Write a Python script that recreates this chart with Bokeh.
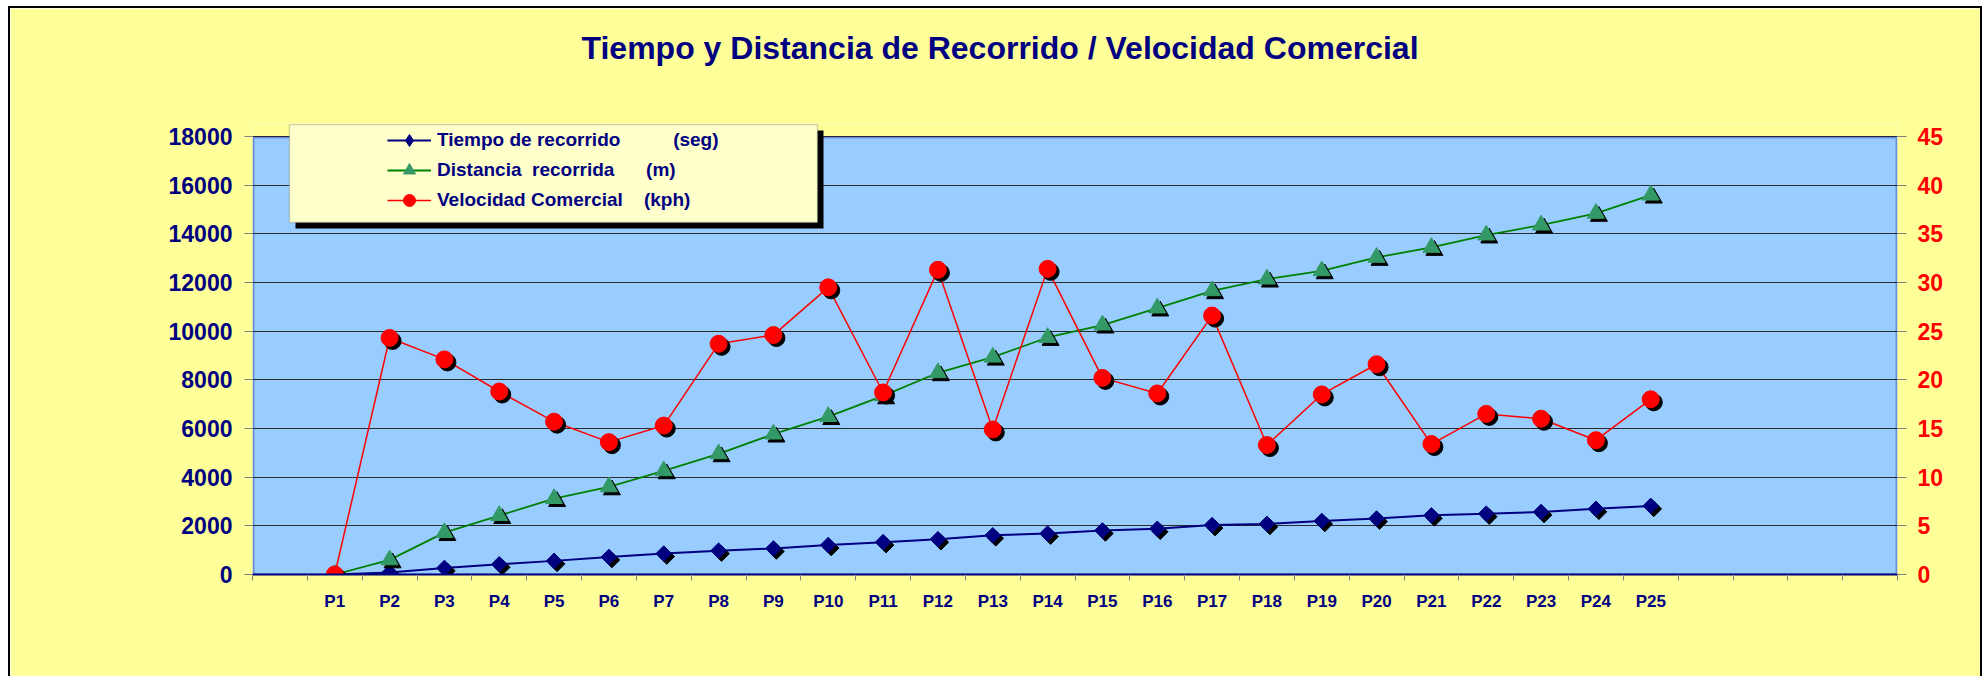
import numpy as np
from bokeh.plotting import figure
from bokeh.models import (Range1d, LinearAxis, FixedTicker, Legend, LegendItem,
                          BoxAnnotation, ColumnDataSource, Title)
from bokeh.transform import dodge
from bokeh.embed import file_html
from bokeh.resources import INLINE

# ---------------- data ----------------
categorias = ["P1", "P2", "P3", "P4", "P5", "P6", "P7", "P8", "P9", "P10",
              "P11", "P12", "P13", "P14", "P15", "P16", "P17", "P18", "P19", "P20",
              "P21", "P22", "P23", "P24", "P25"]
tiempo_seg = [0, 80, 270, 420, 560, 720, 860, 980, 1070, 1210,
              1330, 1450, 1610, 1680, 1810, 1880, 2030, 2080, 2200, 2300,
              2430, 2500, 2570, 2700, 2820]
distancia_m = [0, 600, 1720, 2420, 3120, 3600, 4260, 4960, 5770, 6490,
               7340, 8290, 8930, 9740, 10250, 10950, 11660, 12140, 12480, 13030,
               13440, 13950, 14360, 14840, 15590]
velocidad_kph = [0, 24.3, 22.1, 18.8, 15.7, 13.6, 15.3, 23.7, 24.6, 29.5,
                 18.7, 31.3, 14.9, 31.4, 20.2, 18.6, 26.6, 13.3, 18.5, 21.6,
                 13.4, 16.5, 16.0, 13.8, 18.0]
y_left_ticks = [0, 2000, 4000, 6000, 8000, 10000, 12000, 14000, 16000, 18000]
y_right_ticks = [0, 5, 10, 15, 20, 25, 30, 35, 40, 45]
NB = "\u00a0"
leyenda = ["Tiempo de recorrido" + NB * 10 + "(seg)",
           "Distancia" + NB * 2 + "recorrida" + NB * 6 + "(m)",
           "Velocidad Comercial" + NB * 4 + "(kph)"]
titulo = "Tiempo y Distancia de Recorrido / Velocidad Comercial"

# ---------------- style / layout ----------------
NAVY = "#000080"
RED = "#FF0000"
GREEN_LINE = "#008000"
GREEN_FILL = "#339966"
FONT = "Liberation Sans"
N_SLOTS = 30
FIRST_SLOT = 2
Y_MAX, V_MAX = y_left_ticks[-1], y_right_ticks[-1]

# page geometry (px)
CONTENT_L, CONTENT_T = 10, 8          # inside the 2px border
FR_L, FR_R = 252, 1897                # frame left/right
AREA_T, AREA_B = 136, 574             # blue plot area top/bottom
FR_T = 123                            # frame top (extended to hold legend box)
W_FRAME = FR_R - FR_L
H_AREA = AREA_B - AREA_T
H_FRAME = AREA_B - FR_T
MB_L = FR_L - CONTENT_L
MB_R = 1984 - FR_R
MB_T = FR_T - CONTENT_T
MB_B = 680 - MB_T - H_FRAME
SH = 3  # marker shadow offset px

dx = N_SLOTS / W_FRAME
dy = Y_MAX / H_AREA
dv = V_MAX / H_AREA

def X(px):
    return 0.5 + (px - FR_L) * dx
def Y(py):
    return Y_MAX - (py - AREA_T) * dy

xpos = [FIRST_SLOT + i for i in range(len(categorias))]
src = ColumnDataSource(dict(x=xpos, cat=categorias, t=tiempo_seg,
                            d=distancia_m, v=velocidad_kph))

p = figure(width=MB_L + W_FRAME + MB_R, height=MB_T + H_FRAME + MB_B,
           x_range=Range1d(0.5, N_SLOTS + 0.5),
           y_range=Range1d(0, Y_MAX + (AREA_T - FR_T) * dy),
           output_backend="svg", toolbar_location=None, title=None,
           min_border_left=MB_L, min_border_right=MB_R,
           min_border_top=MB_T, min_border_bottom=MB_B,
           background_fill_color="#FFFF99", border_fill_color="#FFFF99",
           outline_line_color=None)
p.styles = {"border-top": "2px solid black", "border-left": "2px solid black",
            "border-right": "2px solid black", "margin": "6px 0px 0px 8px"}
p.extra_y_ranges = {"vel": Range1d(0, V_MAX + (AREA_T - FR_T) * dv)}

# titles (spacer nearest to frame, then the real title)
spacer = Title(text=" ", text_font_size="1px", standoff=53)
p.add_layout(spacer, "above")
p.add_layout(Title(text=titulo, text_font=FONT, text_font_size="32px",
                   text_font_style="bold", text_color=NAVY, align="left",
                   offset=329, vertical_align="top", standoff=0), "above")

# blue plot area
p.add_layout(BoxAnnotation(bottom=0, top=Y_MAX, fill_color="#99CCFF", fill_alpha=1,
                           line_alpha=0, level="image"))

# grid
p.xgrid.visible = False
p.ygrid.ticker = FixedTicker(ticks=y_left_ticks)
p.ygrid.grid_line_color = "#2b2b2b"
p.ygrid.grid_line_width = 1

# navy outline of the plot area
p.add_layout(BoxAnnotation(left=X(FR_L + 1), right=X(FR_R - 1), bottom=0, top=Y(AREA_T + 1),
                           fill_alpha=0, line_color=NAVY, line_width=2, level="underlay"))

# left axis
ax_l = p.left[0]
ax_l.ticker = FixedTicker(ticks=y_left_ticks)
ax_l.axis_line_color = None
ax_l.major_tick_out = 8
ax_l.major_tick_in = 0
ax_l.major_tick_line_color = "#808080"
ax_l.minor_tick_line_color = None
ax_l.major_label_text_font = FONT
ax_l.major_label_text_font_size = "23px"
ax_l.major_label_text_font_style = "bold"
ax_l.major_label_text_color = NAVY
ax_l.major_label_standoff = 12

# bottom axis
ax_b = p.below[0]
ax_b.ticker = FixedTicker(ticks=xpos, minor_ticks=[i + 0.5 for i in range(N_SLOTS + 1)])
ax_b.major_label_overrides = {xi: c for xi, c in zip(xpos, categorias)}
ax_b.axis_line_color = NAVY
ax_b.axis_line_width = 2
ax_b.major_tick_out = 0
ax_b.major_tick_in = 0
ax_b.minor_tick_out = 6
ax_b.minor_tick_in = 0
ax_b.minor_tick_line_color = "#808080"
ax_b.major_label_text_font = FONT
ax_b.major_label_text_font_size = "17px"
ax_b.major_label_text_font_style = "bold"
ax_b.major_label_text_color = NAVY
ax_b.major_label_standoff = 11

# right axis
ax_r = LinearAxis(y_range_name="vel", ticker=FixedTicker(ticks=y_right_ticks))
ax_r.axis_line_color = None
ax_r.major_tick_out = 9
ax_r.major_tick_in = 0
ax_r.major_tick_line_color = "#808080"
ax_r.minor_tick_line_color = None
ax_r.major_label_text_font = FONT
ax_r.major_label_text_font_size = "23px"
ax_r.major_label_text_font_style = "bold"
ax_r.major_label_text_color = RED
ax_r.major_label_standoff = 11
p.add_layout(ax_r, "right")

# series: tiempo
l_t = p.line("x", "t", source=src, line_color=NAVY, line_width=2)
p.scatter(x=dodge("x", SH * dx), y=dodge("t", -SH * dy), source=src,
          marker="square", angle=np.pi / 4, size=11, fill_color="black", line_color="black")
p.scatter("x", "t", source=src, marker="square", angle=np.pi / 4, size=11,
          fill_color=NAVY, line_color=NAVY)
# legend-only sample marker (a single non-drawable point)
s_t = p.scatter(x=[np.nan], y=[np.nan], marker="diamond", fill_color=NAVY, line_color=NAVY)

# series: distancia
l_d = p.line("x", "d", source=src, line_color=GREEN_LINE, line_width=1.8)
p.scatter(x=dodge("x", SH * dx), y=dodge("d", -SH * dy), source=src,
          marker="triangle", size=17, fill_color="black", line_color="black")
s_d = p.scatter("x", "d", source=src, marker="triangle", size=17,
                fill_color=GREEN_FILL, line_color=GREEN_FILL)

# series: velocidad (secondary axis)
l_v = p.line("x", "v", source=src, y_range_name="vel", line_color=RED, line_width=1.5)
p.scatter(x=dodge("x", SH * dx), y=dodge("v", -SH * dv), source=src, y_range_name="vel",
          marker="circle", size=17, fill_color="black", line_color="black")
s_v = p.scatter("x", "v", source=src, y_range_name="vel", marker="circle", size=17,
                fill_color=RED, line_color=RED)

# legend box + shadow
LG_L, LG_R, LG_T, LG_B = 289, 817, 124, 222
p.add_layout(BoxAnnotation(left=X(LG_L + 6), right=X(LG_R + 6), top=Y(LG_T + 6), bottom=Y(LG_B + 6),
                           fill_color="black", fill_alpha=1, line_alpha=0))
p.add_layout(BoxAnnotation(left=X(LG_L), right=X(LG_R), top=Y(LG_T), bottom=Y(LG_B),
                           fill_color="#FFFFCC", fill_alpha=1, line_color="#707070", line_width=1.5))

legend = Legend(items=[LegendItem(label=leyenda[0], renderers=[l_t, s_t]),
                       LegendItem(label=leyenda[1], renderers=[l_d, s_d]),
                       LegendItem(label=leyenda[2], renderers=[l_v, s_v])],
                location=(387 - FR_L, AREA_B - 215),
                background_fill_alpha=0, border_line_alpha=0,
                padding=0, margin=0, spacing=0,
                glyph_width=44, glyph_height=30, label_height=30, label_standoff=6,
                label_text_font=FONT, label_text_font_style="bold",
                label_text_font_size="19px", label_text_color=NAVY)
p.add_layout(legend)

open("out.html", "w").write(file_html(p, INLINE))
